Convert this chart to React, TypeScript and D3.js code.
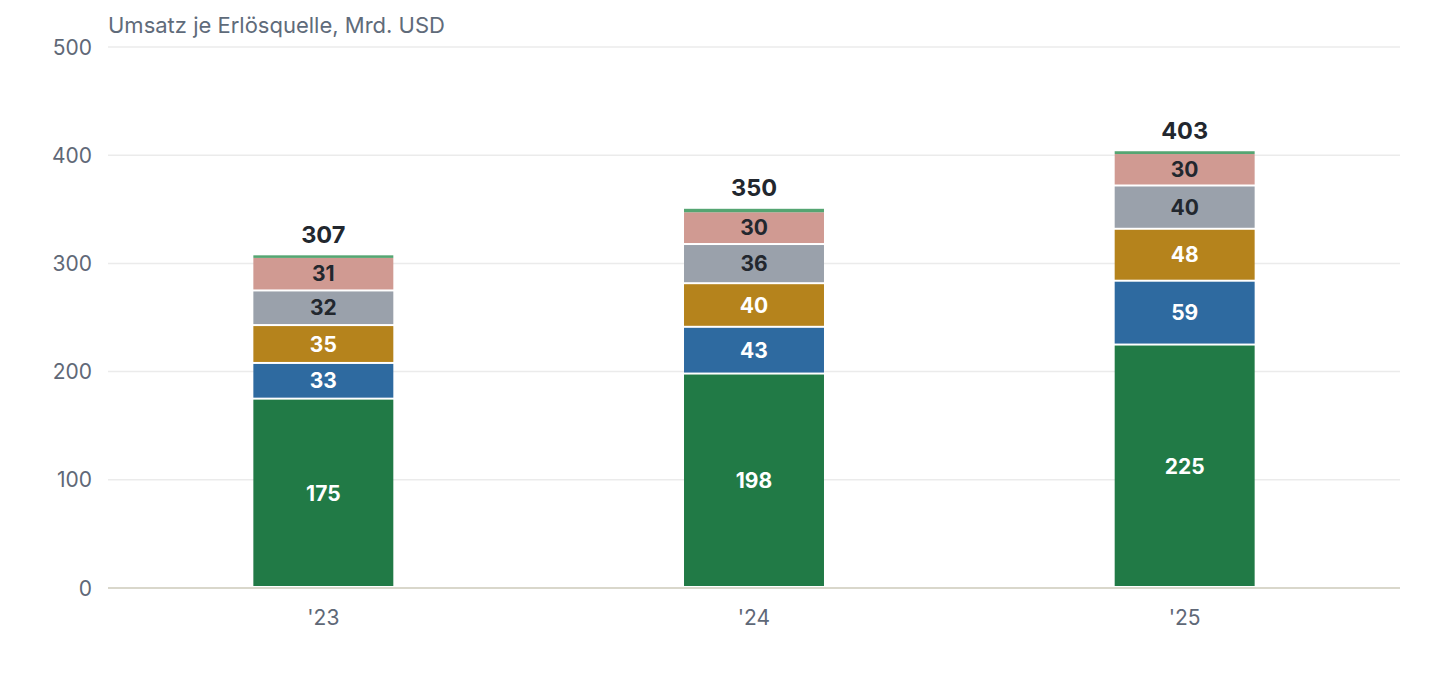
import { useEffect } from "react";
import * as d3 from "d3";

// Daten (Mrd. USD)
const years = ["'23", "'24", "'25"];
const seriesKeys = ["a", "b", "c", "d", "e", "f"];
const seriesColors = ["#217a46", "#2e6aa0", "#b5831c", "#9aa1ab", "#d09a92", "#55a572"];
const seriesLabelColors = ["#ffffff", "#ffffff", "#ffffff", "#22272e", "#22272e", "#22272e"];
const valuesA = [175, 198.2, 225];
const valuesB = [33, 43.2, 59];
const valuesC = [35, 40.3, 48];
const valuesD = [32, 36.2, 40];
const valuesE = [31, 30.3, 30];
const valuesF = [1, 1.8, 1.2];
const yTicks = [0, 100, 200, 300, 400, 500];
const title = "Umsatz je Erlösquelle, Mrd. USD";

const W = 1440;
const H = 680;
const margin = { top: 47, right: 40, bottom: 92, left: 108 };

export default function App() {
  useEffect(() => {
    document.body.style.margin = "0";
  }, []);

  const rows = years.map((year, i) => ({
    year,
    a: valuesA[i],
    b: valuesB[i],
    c: valuesC[i],
    d: valuesD[i],
    e: valuesE[i],
    f: valuesF[i],
  }));

  const innerW = W - margin.left - margin.right;
  const innerH = H - margin.top - margin.bottom;

  const x = d3.scaleBand().domain(years).range([0, innerW]).paddingInner(0.675).paddingOuter(0.3375);
  const y = d3.scaleLinear().domain([0, 500]).range([innerH, 0]);

  const stack = d3.stack<(typeof rows)[0]>().keys(seriesKeys);
  const layers = stack(rows);
  const lastLayer = layers.length - 1;

  const font = "Inter, 'Noto Sans', sans-serif";

  return (
    <svg width={W} height={H} style={{ display: "block", fontFamily: font }}>
      <text x={margin.left} y={33} fontSize={22} fill="#5f6b7a">
        {title}
      </text>
      <g transform={`translate(${margin.left},${margin.top})`}>
        {/* Gitterlinien */}
        {yTicks.map((t) => (
          <g key={t} transform={`translate(0,${y(t)})`}>
            <line
              x1={0}
              x2={innerW}
              stroke={t === 0 ? "#d9d7cb" : "#ebebeb"}
              strokeWidth={t === 0 ? 2 : 1.5}
            />
            <text x={-16} dy="0.36em" textAnchor="end" fontSize={21} fill="#5f6877">
              {t}
            </text>
          </g>
        ))}

        {/* Balken */}
        {layers.map((layer, li) => (
          <g key={layer.key}>
            {layer.map((seg, i) => {
              const y0 = y(seg[0]);
              const y1 = y(seg[1]);
              const h = y0 - y1;
              const val = seg[1] - seg[0];
              const top = li === lastLayer ? y1 - 0.5 : y1 + 1;
              const bottom = li === lastLayer ? y0 + 1 : li === 0 ? y0 - 2 : y0 - 1;
              return (
                <g key={i}>
                  <rect
                    x={x(years[i])!}
                    y={top}
                    width={x.bandwidth()}
                    height={Math.max(bottom - top, 1)}
                    fill={seriesColors[li]}
                  />
                  {h > 20 && (
                    <text
                      x={x(years[i])! + x.bandwidth() / 2}
                      y={(y0 + y1) / 2}
                      dy="0.36em"
                      textAnchor="middle"
                      fontSize={21}
                      fontWeight={700}
                      fill={seriesLabelColors[li]}
                    >
                      {Math.round(val)}
                    </text>
                  )}
                </g>
              );
            })}
          </g>
        ))}

        {/* Summen */}
        {rows.map((r) => {
          const total = d3.sum(seriesKeys, (k) => (r as any)[k] as number);
          return (
            <text
              key={r.year}
              x={x(r.year)! + x.bandwidth() / 2}
              y={y(total) - 13}
              textAnchor="middle"
              fontSize={23.5}
              fontWeight={700}
              fill="#22272e"
            >
              {Math.round(total)}
            </text>
          );
        })}

        {/* X-Achse */}
        {years.map((yr) => (
          <text
            key={yr}
            x={x(yr)! + x.bandwidth() / 2}
            y={innerH + 37}
            textAnchor="middle"
            fontSize={21}
            fill="#5f6877"
          >
            {yr}
          </text>
        ))}
      </g>
    </svg>
  );
}
